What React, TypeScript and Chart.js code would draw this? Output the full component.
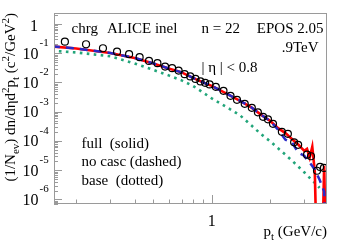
import React, { useEffect, useRef } from "react";
import { Chart, registerables } from "chart.js";

Chart.register(...registerables);

// ---- data ----
const dataPt = [0.175, 0.225, 0.275, 0.325, 0.375, 0.425, 0.475, 0.525, 0.575, 0.625, 0.675, 0.725, 0.775, 0.825, 0.875, 0.925, 0.975, 1.05, 1.15, 1.25, 1.35, 1.48, 1.61, 1.73, 1.84, 1.95, 2.07, 2.3, 2.47, 2.66, 2.79, 3.1, 3.25, 3.49, 3.62, 3.79];
const dataY = [0.249, 0.203, 0.148, 0.113, 0.0925, 0.073, 0.0546, 0.0456, 0.0349, 0.0308, 0.0255, 0.0192, 0.01615, 0.01327, 0.0109, 0.00969, 0.00861, 0.00708, 0.00517, 0.00349, 0.00255, 0.00186, 0.00136, 0.000955, 0.00067, 0.00055, 0.000387, 0.000206, 0.000176, 9.0e-5, 7.4e-5, 3.4e-5, 3.0e-5, 9.6e-6, 1.3e-5, 1.2e-5];

const fullPt = [0.15, 0.2, 0.3, 0.4, 0.5, 0.6, 0.7, 0.8, 0.9, 1.0, 1.2, 1.4, 1.6, 1.8, 2.0, 2.2, 2.4, 2.6, 2.8, 3.0, 3.1, 3.2, 3.3, 3.4, 3.6, 3.8, 4.0];
const fullY = [0.1706, 0.1459, 0.1024, 0.0691, 0.0449, 0.0302, 0.0222, 0.01443, 0.01009, 0.00766, 0.0041, 0.00236, 0.00141, 0.00078, 0.000489, 0.000275, 0.000186, 0.000115, 7.4e-5, 4.6e-5, 5.4e-5, 2.7e-5, 6.3e-5, 8.9e-6, 1e-12, 1.43e-5, 1e-12];
const noCascY = [0.1706, 0.1459, 0.1024, 0.0691, 0.0449, 0.0302, 0.0222, 0.01443, 0.01009, 0.00766, 0.0041, 0.00236, 0.00141, 0.00078, 0.000489, 0.000241, 0.00011, 8.7e-5, 3.96e-5, 3.13e-5, 2.3e-5, 1.8e-5, 1.4e-5, 1.04e-5, 4.7e-6, 1.85e-6, 1e-12];

const basePt = [0.15, 0.2, 0.3, 0.4, 0.5, 0.6, 0.7, 0.8, 0.9, 1.0, 1.2, 1.4, 1.6, 1.8, 2.0, 2.2, 2.4, 2.6, 2.8, 3.0, 3.2, 3.4, 3.6];
const baseY = [0.1217, 0.1065, 0.079, 0.0449, 0.0269, 0.01747, 0.01179, 0.00766, 0.00459, 0.00287, 0.00141, 0.000753, 0.000343, 0.000169, 9.8e-5, 5.6e-5, 3.4e-5, 2.1e-5, 1.32e-5, 8.5e-6, 5.5e-6, 3.7e-6, 2.5e-6];

const yTickExponents = [0, -1, -2, -3, -4, -5, -6];
const xTickLabels = [1];
const legendLines = ["full  (solid)", "no casc (dashed)", "base  (dotted)"];

const X_MIN = 0.1538;
const X_MAX = 3.93;
const Y_MIN = 7.0e-7;
const Y_MAX = 2.373;

const SERIF = '"Liberation Serif", "Times New Roman", serif';

type Seg = { t: string; s: number; dy?: number };

function rich(ctx: CanvasRenderingContext2D, segs: Seg[], x: number, y: number, align: "left" | "right" | "center") {
  let w = 0;
  for (const s of segs) {
    ctx.font = `${s.s}px ${SERIF}`;
    w += ctx.measureText(s.t).width;
  }
  let cx = align === "right" ? x - w : align === "center" ? x - w / 2 : x;
  ctx.textAlign = "left";
  ctx.textBaseline = "alphabetic";
  for (const s of segs) {
    ctx.font = `${s.s}px ${SERIF}`;
    ctx.fillText(s.t, cx, y + (s.dy || 0));
    cx += ctx.measureText(s.t).width;
  }
}

const decor = {
  id: "decor",
  afterDraw(chart: any) {
    const { ctx, chartArea: a, scales } = chart;
    const xs = scales.x;
    const ys = scales.y;
    ctx.save();
    // frame
    ctx.strokeStyle = "#9a9a9a";
    ctx.lineWidth = 1;
    ctx.strokeRect(a.left + 0.5, a.top + 0.5, a.right - a.left - 1, a.bottom - a.top - 1);
    // y ticks
    ctx.beginPath();
    for (let e = -7; e <= 1; e++) {
      for (let m = 1; m < 10; m++) {
        const v = m * Math.pow(10, e);
        if (v < Y_MIN || v > Y_MAX) continue;
        const p = Math.round(ys.getPixelForValue(v)) + 0.5;
        const len = m === 1 ? 8 : 4;
        ctx.moveTo(a.left, p);
        ctx.lineTo(a.left + len, p);
      }
    }
    // x ticks
    for (let e = -1; e <= 0; e++) {
      for (let m = 1; m < 10; m++) {
        const v = m * Math.pow(10, e);
        if (v < X_MIN || v > X_MAX) continue;
        const p = Math.round(xs.getPixelForValue(v)) + 0.5;
        const len = m === 1 ? 9 : 4.5;
        ctx.moveTo(p, a.bottom);
        ctx.lineTo(p, a.bottom - len);
      }
    }
    ctx.stroke();

    ctx.fillStyle = "#000";
    // y tick labels
    for (const e of yTickExponents) {
      const p = ys.getPixelForValue(Math.pow(10, e));
      if (e === 0) {
        rich(ctx, [{ t: "1", s: 16 }], 38, p + 7.5, "right");
      } else {
        rich(ctx, [{ t: "10", s: 16 }], 38.5, p + 5.5, "right");
        rich(ctx, [{ t: String(e), s: 11 }], 39.5, p - 7, "left");
      }
    }
    // x tick labels
    for (const v of xTickLabels) {
      const p = xs.getPixelForValue(v);
      rich(ctx, [{ t: String(v), s: 16 }], p, 225.5, "center");
    }
    // x title
    rich(
      ctx,
      [
        { t: "p", s: 15 },
        { t: "t", s: 11, dy: 4 },
        { t: " (GeV/c)", s: 15 },
      ],
      327,
      236,
      "right"
    );
    // y title (rotated)
    ctx.save();
    ctx.translate(15, 13);
    ctx.rotate(-Math.PI / 2);
    rich(
      ctx,
      [
        { t: "(1/N", s: 15 },
        { t: "ev", s: 11, dy: 4 },
        { t: ") dn/d\u03b7d", s: 15 },
        { t: "2", s: 11, dy: -6 },
        { t: "p", s: 15 },
        { t: "t", s: 11, dy: 4 },
        { t: " (c", s: 15 },
        { t: "2", s: 11, dy: -6 },
        { t: "/GeV", s: 15 },
        { t: "2", s: 11, dy: -6 },
        { t: ")", s: 15 },
      ],
      0,
      0,
      "right"
    );
    ctx.restore();

    // annotations
    rich(ctx, [{ t: "chrg", s: 15 }], 71.5, 33, "left");
    rich(ctx, [{ t: "ALICE inel", s: 15 }], 107, 33, "left");
    rich(ctx, [{ t: "n = 22", s: 15 }], 201.5, 33, "left");
    rich(ctx, [{ t: "EPOS 2.05", s: 15 }], 323.5, 33, "right");
    rich(ctx, [{ t: ".9TeV", s: 15 }], 318.5, 52, "right");
    rich(ctx, [{ t: "| \u03b7 | < 0.8", s: 15 }], 201.5, 71.5, "left");

    const legY = [147.5, 166, 184.5];
    legendLines.forEach((s, i) => rich(ctx, [{ t: s, s: 15 }], 81.5, legY[i], "left"));
    ctx.restore();
  },
};

export default function App() {
  const ref = useRef<HTMLCanvasElement | null>(null);
  useEffect(() => {
    document.body.style.margin = "0";
    if (!ref.current) return;
    const chart = new Chart(ref.current, {
      type: "line",
      data: {
        datasets: [
          {
            label: "data",
            data: dataPt.map((x, i) => ({ x, y: dataY[i] })),
            showLine: false,
            pointStyle: "circle",
            pointRadius: 3.5,
            pointBorderWidth: 1.2,
            pointBorderColor: "#000",
            pointBackgroundColor: "rgba(0,0,0,0)",
            borderColor: "#000",
            order: 0,
          },
          {
            label: "no casc",
            data: fullPt.map((x, i) => ({ x, y: noCascY[i] })),
            borderColor: "#2a2ac8",
            borderWidth: 2.5,
            borderDash: [8, 6],
            pointRadius: 0,
            tension: 0,
            order: 1,
          },
          {
            label: "full",
            data: fullPt.map((x, i) => ({ x, y: fullY[i] })),
            borderColor: "#ff0000",
            borderWidth: 2.6,
            pointRadius: 0,
            tension: 0,
            order: 2,
          },
          {
            label: "base",
            data: basePt.map((x, i) => ({ x, y: baseY[i] })),
            borderColor: "#22a57a",
            borderWidth: 2.6,
            borderDash: [2.6, 4.4],
            pointRadius: 0,
            tension: 0,
            order: 3,
          },
        ],
      },
      options: {
        animation: false,
        responsive: false,
        maintainAspectRatio: false,
        layout: { padding: { left: 54, top: 13, right: 16, bottom: 41 } },
        plugins: { legend: { display: false }, tooltip: { enabled: false } },
        scales: {
          x: { type: "logarithmic", min: X_MIN, max: X_MAX, display: false },
          y: { type: "logarithmic", min: Y_MIN, max: Y_MAX, display: false },
        },
      },
      plugins: [decor],
    });
    return () => chart.destroy();
  }, []);
  return (
    <div style={{ width: 343, height: 245, background: "#fff" }}>
      <canvas ref={ref} width={343} height={245} style={{ display: "block" }} />
    </div>
  );
}
